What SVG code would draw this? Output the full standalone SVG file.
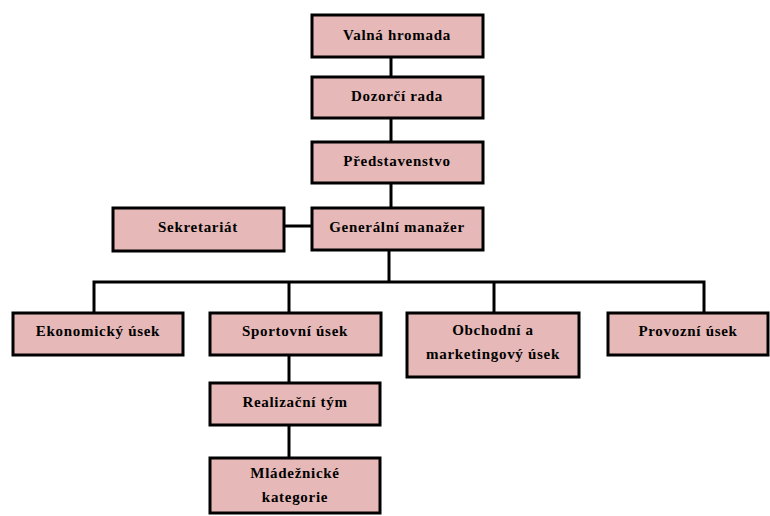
<svg xmlns="http://www.w3.org/2000/svg" width="770" height="516" viewBox="0 0 770 516">
<style>
.box{fill:#E6B8B7;stroke:#000;stroke-width:3}
.lbl{font-family:'Liberation Serif','DejaVu Serif',serif;font-weight:bold;font-size:15px;letter-spacing:0.7px;fill:#000;text-anchor:middle}
.conn{stroke:#000;stroke-width:3;fill:none}
</style>
<rect width="770" height="516" fill="#fff"/>
<g id="connectors">
<line class="conn" x1="391" y1="57" x2="391" y2="77"/>
<line class="conn" x1="391" y1="118" x2="391" y2="142"/>
<line class="conn" x1="391" y1="183" x2="391" y2="208"/>
<line class="conn" x1="284" y1="226" x2="312" y2="226"/>
<line class="conn" x1="389" y1="250" x2="389" y2="282"/>
<polyline class="conn" points="94,313 94,282 704,282 704,313"/>
<line class="conn" x1="289" y1="282" x2="289" y2="313"/>
<line class="conn" x1="494" y1="282" x2="494" y2="313"/>
<line class="conn" x1="289" y1="355" x2="289" y2="383"/>
<line class="conn" x1="289" y1="425" x2="289" y2="458"/>
</g>
<g id="valna"><rect class="box" x="312" y="15" width="171" height="42"/><text class="lbl" x="397" y="40">Valná hromada</text></g>
<g id="dozorci"><rect class="box" x="312" y="77" width="171" height="41"/><text class="lbl" x="397" y="101">Dozorčí rada</text></g>
<g id="predstavenstvo"><rect class="box" x="312" y="142" width="171" height="41"/><text class="lbl" x="397" y="166">Představenstvo</text></g>
<g id="manazer"><rect class="box" x="312" y="208" width="171" height="42"/><text class="lbl" x="397" y="232">Generální manažer</text></g>
<g id="sekretariat"><rect class="box" x="113" y="208" width="171" height="43"/><text class="lbl" x="198" y="232">Sekretariát</text></g>
<g id="ekonomicky"><rect class="box" x="13" y="313" width="170" height="42"/><text class="lbl" x="98" y="336">Ekonomický úsek</text></g>
<g id="sportovni"><rect class="box" x="210" y="313" width="171" height="42"/><text class="lbl" x="295" y="336">Sportovní úsek</text></g>
<g id="obchodni"><rect class="box" x="407" y="313" width="172" height="64"/><text class="lbl" x="493" y="335">Obchodní a</text><text class="lbl" x="493" y="359">marketingový úsek</text></g>
<g id="provozni"><rect class="box" x="608" y="313" width="160" height="42"/><text class="lbl" x="688" y="336">Provozní úsek</text></g>
<g id="realizacni"><rect class="box" x="210" y="383" width="170" height="42"/><text class="lbl" x="295" y="407">Realizační tým</text></g>
<g id="mladeznicke"><rect class="box" x="210" y="458" width="170" height="55"/><text class="lbl" x="295" y="478">Mládežnické</text><text class="lbl" x="295" y="502">kategorie</text></g>
</svg>
